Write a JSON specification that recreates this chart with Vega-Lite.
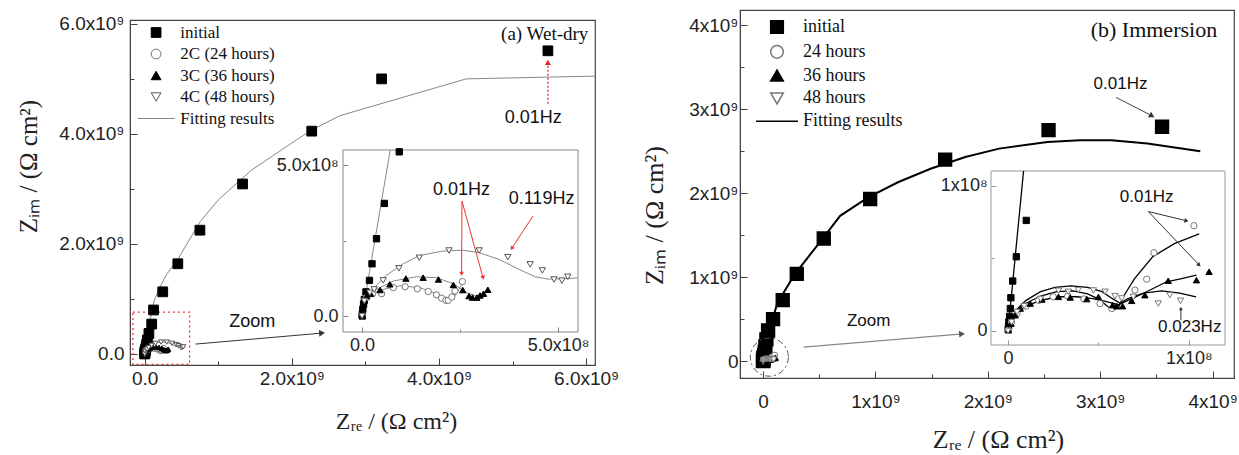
{
  "$schema": "https://vega.github.io/schema/vega-lite/v6.json",
  "padding": {"left": 15, "top": 7, "right": 5, "bottom": 5},
  "background": "white",
  "spacing": 20,
  "config": {
    "view": {"stroke": "#444", "strokeWidth": 1.2},
    "axis": {"grid": false, "labelFlush": false, "labelOverlap": false, "domainColor": "#444", "tickColor": "#444", "labelColor": "#222", "titleColor": "#222", "labelFont": "Liberation Sans", "titleFont": "Liberation Serif", "titleFontWeight": "normal"},
    "legend": {"padding": 0},
    "text": {"font": "Liberation Sans"}
  },
  "resolve": {
    "scale": {"shape": "independent", "fill": "independent", "stroke": "independent"},
    "legend": {"shape": "independent", "fill": "independent", "stroke": "independent"}
  },
  "datasets": {
    "a_pts": [
      {"s": "initial", "x": 5.48e9, "y": 5.51e9},
      {"s": "initial", "x": 3.22e9, "y": 5.0e9},
      {"s": "initial", "x": 2.27e9, "y": 4.05e9},
      {"s": "initial", "x": 1.33e9, "y": 3.09e9},
      {"s": "initial", "x": 7.5e8, "y": 2.25e9},
      {"s": "initial", "x": 4.5e8, "y": 1.64e9},
      {"s": "initial", "x": 2.45e8, "y": 1.13e9},
      {"s": "initial", "x": 1.2e8, "y": 8.0e8},
      {"s": "initial", "x": 9.5e7, "y": 5.44e8},
      {"s": "initial", "x": 5.7e7, "y": 3.73e8},
      {"s": "initial", "x": 3.7e7, "y": 2.56e8},
      {"s": "initial", "x": 2.55e7, "y": 1.73e8},
      {"s": "initial", "x": 1.9e7, "y": 1.18e8},
      {"s": "initial", "x": 1.0e7, "y": 8.0e7},
      {"s": "initial", "x": 6e6, "y": 5.5e7},
      {"s": "initial", "x": 4e6, "y": 3.9e7},
      {"s": "initial", "x": 2e6, "y": 2.2e7},
      {"s": "initial", "x": 1e6, "y": 8e6},
      {"s": "initial", "x": 5e5, "y": 0},
      {"s": "2C (24 hours)", "x": 1e6, "y": 5e6},
      {"s": "2C (24 hours)", "x": 1.2e7, "y": 6.1e7},
      {"s": "2C (24 hours)", "x": 2.7e7, "y": 7.4e7},
      {"s": "2C (24 hours)", "x": 5.0e7, "y": 7.4e7},
      {"s": "2C (24 hours)", "x": 8.0e7, "y": 9.4e7},
      {"s": "2C (24 hours)", "x": 1.10e8, "y": 9.7e7},
      {"s": "2C (24 hours)", "x": 1.41e8, "y": 9.0e7},
      {"s": "2C (24 hours)", "x": 1.69e8, "y": 8.1e7},
      {"s": "2C (24 hours)", "x": 1.90e8, "y": 7.0e7},
      {"s": "2C (24 hours)", "x": 2.03e8, "y": 5.9e7},
      {"s": "2C (24 hours)", "x": 2.14e8, "y": 5.2e7},
      {"s": "2C (24 hours)", "x": 2.20e8, "y": 5.2e7},
      {"s": "2C (24 hours)", "x": 2.29e8, "y": 6.3e7},
      {"s": "2C (24 hours)", "x": 2.37e8, "y": 8.3e7},
      {"s": "2C (24 hours)", "x": 2.56e8, "y": 1.14e8},
      {"s": "3C (36 hours)", "x": 0, "y": 5.5e6},
      {"s": "3C (36 hours)", "x": 5e5, "y": 1.66e7},
      {"s": "3C (36 hours)", "x": 6e6, "y": 5.0e7},
      {"s": "3C (36 hours)", "x": 1.2e7, "y": 6.6e7},
      {"s": "3C (36 hours)", "x": 2.2e7, "y": 7.4e7},
      {"s": "3C (36 hours)", "x": 4.6e7, "y": 8.6e7},
      {"s": "3C (36 hours)", "x": 7.1e7, "y": 1.05e8},
      {"s": "3C (36 hours)", "x": 1.12e8, "y": 1.24e8},
      {"s": "3C (36 hours)", "x": 1.56e8, "y": 1.27e8},
      {"s": "3C (36 hours)", "x": 1.95e8, "y": 1.21e8},
      {"s": "3C (36 hours)", "x": 2.33e8, "y": 1.03e8},
      {"s": "3C (36 hours)", "x": 2.57e8, "y": 8.6e7},
      {"s": "3C (36 hours)", "x": 2.73e8, "y": 6.6e7},
      {"s": "3C (36 hours)", "x": 2.82e8, "y": 6.1e7},
      {"s": "3C (36 hours)", "x": 2.93e8, "y": 6.1e7},
      {"s": "3C (36 hours)", "x": 3.01e8, "y": 6.8e7},
      {"s": "3C (36 hours)", "x": 3.10e8, "y": 7.4e7},
      {"s": "3C (36 hours)", "x": 3.21e8, "y": 8.7e7},
      {"s": "4C (48 hours)", "x": 0, "y": 0},
      {"s": "4C (48 hours)", "x": 6e6, "y": 5.0e7},
      {"s": "4C (48 hours)", "x": 2.0e7, "y": 7.7e7},
      {"s": "4C (48 hours)", "x": 3.1e7, "y": 8.8e7},
      {"s": "4C (48 hours)", "x": 5.4e7, "y": 1.18e8},
      {"s": "4C (48 hours)", "x": 9.4e7, "y": 1.58e8},
      {"s": "4C (48 hours)", "x": 1.46e8, "y": 1.93e8},
      {"s": "4C (48 hours)", "x": 2.22e8, "y": 2.17e8},
      {"s": "4C (48 hours)", "x": 2.99e8, "y": 2.17e8},
      {"s": "4C (48 hours)", "x": 3.72e8, "y": 1.95e8},
      {"s": "4C (48 hours)", "x": 4.29e8, "y": 1.71e8},
      {"s": "4C (48 hours)", "x": 4.60e8, "y": 1.51e8},
      {"s": "4C (48 hours)", "x": 4.90e8, "y": 1.21e8},
      {"s": "4C (48 hours)", "x": 5.10e8, "y": 1.17e8},
      {"s": "4C (48 hours)", "x": 5.25e8, "y": 1.30e8}
    ],
    "a_fit": [
      {"s": "initial", "p": "m", "x": 0, "y": 0},
      {"s": "initial", "p": "m", "x": 7e7, "y": 6.0e8},
      {"s": "initial", "p": "m", "x": 1.27e8, "y": 9.6e8},
      {"s": "initial", "p": "m", "x": 2.0e8, "y": 1.2e9},
      {"s": "initial", "p": "m", "x": 3.0e8, "y": 1.45e9},
      {"s": "initial", "p": "m", "x": 4.5e8, "y": 1.72e9},
      {"s": "initial", "p": "m", "x": 7.5e8, "y": 2.4e9},
      {"s": "initial", "p": "m", "x": 1.0e9, "y": 2.8e9},
      {"s": "initial", "p": "m", "x": 1.45e9, "y": 3.34e9},
      {"s": "initial", "p": "m", "x": 2.24e9, "y": 4.05e9},
      {"s": "initial", "p": "m", "x": 2.65e9, "y": 4.33e9},
      {"s": "initial", "p": "m", "x": 4.37e9, "y": 5.0e9},
      {"s": "initial", "p": "m", "x": 6.12e9, "y": 5.05e9},
      {"s": "initial", "p": "z", "x": 0, "y": 0},
      {"s": "initial", "p": "z", "x": 7.2e7, "y": 5.5e8},
      {"s": "4C (48 hours)", "p": "z", "x": 0, "y": 0},
      {"s": "4C (48 hours)", "p": "z", "x": 1.2e7, "y": 5.0e7},
      {"s": "4C (48 hours)", "p": "z", "x": 3.2e7, "y": 9.5e7},
      {"s": "4C (48 hours)", "p": "z", "x": 6.1e7, "y": 1.34e8},
      {"s": "4C (48 hours)", "p": "z", "x": 1.04e8, "y": 1.72e8},
      {"s": "4C (48 hours)", "p": "z", "x": 1.46e8, "y": 2.0e8},
      {"s": "4C (48 hours)", "p": "z", "x": 2.05e8, "y": 2.15e8},
      {"s": "4C (48 hours)", "p": "z", "x": 2.56e8, "y": 2.18e8},
      {"s": "4C (48 hours)", "p": "z", "x": 2.98e8, "y": 2.10e8},
      {"s": "4C (48 hours)", "p": "z", "x": 3.49e8, "y": 1.88e8},
      {"s": "4C (48 hours)", "p": "z", "x": 4.0e8, "y": 1.55e8},
      {"s": "4C (48 hours)", "p": "z", "x": 4.42e8, "y": 1.30e8},
      {"s": "4C (48 hours)", "p": "z", "x": 4.76e8, "y": 1.22e8},
      {"s": "4C (48 hours)", "p": "z", "x": 5.18e8, "y": 1.24e8},
      {"s": "4C (48 hours)", "p": "z", "x": 5.50e8, "y": 1.26e8},
      {"s": "3C (36 hours)", "p": "z", "x": 0, "y": 0},
      {"s": "3C (36 hours)", "p": "z", "x": 1.2e7, "y": 6.1e7},
      {"s": "3C (36 hours)", "p": "z", "x": 3.8e7, "y": 8.9e7},
      {"s": "3C (36 hours)", "p": "z", "x": 8.0e7, "y": 1.16e8},
      {"s": "3C (36 hours)", "p": "z", "x": 1.39e8, "y": 1.30e8},
      {"s": "3C (36 hours)", "p": "z", "x": 1.90e8, "y": 1.27e8},
      {"s": "3C (36 hours)", "p": "z", "x": 2.33e8, "y": 1.07e8},
      {"s": "3C (36 hours)", "p": "z", "x": 2.67e8, "y": 7.7e7},
      {"s": "3C (36 hours)", "p": "z", "x": 2.93e8, "y": 6.6e7},
      {"s": "3C (36 hours)", "p": "z", "x": 3.19e8, "y": 8.3e7},
      {"s": "2C (24 hours)", "p": "z", "x": 0, "y": 0},
      {"s": "2C (24 hours)", "p": "z", "x": 1.6e7, "y": 6.6e7},
      {"s": "2C (24 hours)", "p": "z", "x": 4.6e7, "y": 8.6e7},
      {"s": "2C (24 hours)", "p": "z", "x": 9.7e7, "y": 1.0e8},
      {"s": "2C (24 hours)", "p": "z", "x": 1.48e8, "y": 9.4e7},
      {"s": "2C (24 hours)", "p": "z", "x": 1.87e8, "y": 7.5e7},
      {"s": "2C (24 hours)", "p": "z", "x": 2.12e8, "y": 5.2e7},
      {"s": "2C (24 hours)", "p": "z", "x": 2.34e8, "y": 6.1e7},
      {"s": "2C (24 hours)", "p": "z", "x": 2.55e8, "y": 1.05e8}
    ],
    "b_pts": [
      {"s": "initial", "x": 3.55e9, "y": 2.79e9},
      {"s": "initial", "x": 2.54e9, "y": 2.75e9},
      {"s": "initial", "x": 1.62e9, "y": 2.40e9},
      {"s": "initial", "x": 9.53e8, "y": 1.93e9},
      {"s": "initial", "x": 5.4e8, "y": 1.46e9},
      {"s": "initial", "x": 3.0e8, "y": 1.04e9},
      {"s": "initial", "x": 1.75e8, "y": 7.26e8},
      {"s": "initial", "x": 8.9e7, "y": 5.0e8},
      {"s": "initial", "x": 4.5e7, "y": 3.65e8},
      {"s": "initial", "x": 3.0e7, "y": 2.6e8},
      {"s": "initial", "x": 2.1e7, "y": 1.75e8},
      {"s": "initial", "x": 1.5e7, "y": 1.14e8},
      {"s": "initial", "x": 1.01e7, "y": 7.6e7},
      {"s": "initial", "x": 4.6e6, "y": 5.1e7},
      {"s": "initial", "x": 2.6e6, "y": 3.43e7},
      {"s": "initial", "x": 1.6e6, "y": 2.28e7},
      {"s": "initial", "x": 1.3e6, "y": 1.54e7},
      {"s": "initial", "x": 9e5, "y": 1.0e7},
      {"s": "initial", "x": 5e5, "y": 6.3e6},
      {"s": "initial", "x": 3e5, "y": 3.2e6},
      {"s": "initial", "x": 1e5, "y": 1e6},
      {"s": "24 hours", "x": 3e5, "y": 5e5},
      {"s": "24 hours", "x": 2e6, "y": 6e6},
      {"s": "24 hours", "x": 5e6, "y": 1.2e7},
      {"s": "24 hours", "x": 1.0e7, "y": 1.7e7},
      {"s": "24 hours", "x": 1.7e7, "y": 2.1e7},
      {"s": "24 hours", "x": 2.5e7, "y": 2.35e7},
      {"s": "24 hours", "x": 3.3e7, "y": 2.4e7},
      {"s": "24 hours", "x": 4.2e7, "y": 2.2e7},
      {"s": "24 hours", "x": 5.09e7, "y": 1.88e7},
      {"s": "24 hours", "x": 5.74e7, "y": 1.54e7},
      {"s": "24 hours", "x": 7.02e7, "y": 2.81e7},
      {"s": "24 hours", "x": 7.67e7, "y": 3.56e7},
      {"s": "24 hours", "x": 8.07e7, "y": 5.38e7},
      {"s": "24 hours", "x": 1.028e8, "y": 7.24e7},
      {"s": "36 hours", "x": 3e5, "y": 5e5},
      {"s": "36 hours", "x": 1.7e6, "y": 5e6},
      {"s": "36 hours", "x": 4.0e6, "y": 1.08e7},
      {"s": "36 hours", "x": 6.8e6, "y": 1.54e7},
      {"s": "36 hours", "x": 1.23e7, "y": 1.88e7},
      {"s": "36 hours", "x": 1.88e7, "y": 2.16e7},
      {"s": "36 hours", "x": 2.79e7, "y": 2.34e7},
      {"s": "36 hours", "x": 3.44e7, "y": 2.30e7},
      {"s": "36 hours", "x": 4.36e7, "y": 2.19e7},
      {"s": "36 hours", "x": 5.0e7, "y": 2.34e7},
      {"s": "36 hours", "x": 5.79e7, "y": 1.77e7},
      {"s": "36 hours", "x": 6.01e7, "y": 1.70e7},
      {"s": "36 hours", "x": 6.34e7, "y": 1.70e7},
      {"s": "36 hours", "x": 6.84e7, "y": 2.07e7},
      {"s": "36 hours", "x": 7.57e7, "y": 2.46e7},
      {"s": "36 hours", "x": 8.86e7, "y": 3.45e7},
      {"s": "36 hours", "x": 1.042e8, "y": 3.49e7},
      {"s": "36 hours", "x": 1.112e8, "y": 4.07e7},
      {"s": "48 hours", "x": 0, "y": 0},
      {"s": "48 hours", "x": 2e6, "y": 6e6},
      {"s": "48 hours", "x": 5e6, "y": 1.3e7},
      {"s": "48 hours", "x": 9e6, "y": 1.7e7},
      {"s": "48 hours", "x": 1.8e7, "y": 2.2e7},
      {"s": "48 hours", "x": 2.79e7, "y": 2.76e7},
      {"s": "48 hours", "x": 3.34e7, "y": 2.69e7},
      {"s": "48 hours", "x": 3.89e7, "y": 2.81e7},
      {"s": "48 hours", "x": 4.72e7, "y": 2.78e7},
      {"s": "48 hours", "x": 5.37e7, "y": 2.69e7},
      {"s": "48 hours", "x": 5.92e7, "y": 2.39e7},
      {"s": "48 hours", "x": 6.29e7, "y": 2.23e7},
      {"s": "48 hours", "x": 6.93e7, "y": 2.34e7},
      {"s": "48 hours", "x": 8.31e7, "y": 1.88e7},
      {"s": "48 hours", "x": 8.95e7, "y": 2.46e7},
      {"s": "48 hours", "x": 9.54e7, "y": 2.07e7}
    ],
    "b_fit": [
      {"s": "initial", "p": "m", "x": 0, "y": 0},
      {"s": "initial", "p": "m", "x": 6e7, "y": 4.0e8},
      {"s": "initial", "p": "m", "x": 1.3e8, "y": 7.0e8},
      {"s": "initial", "p": "m", "x": 2.85e8, "y": 1.04e9},
      {"s": "initial", "p": "m", "x": 5.25e8, "y": 1.45e9},
      {"s": "initial", "p": "m", "x": 6.86e8, "y": 1.73e9},
      {"s": "initial", "p": "m", "x": 9.35e8, "y": 1.95e9},
      {"s": "initial", "p": "m", "x": 1.2e9, "y": 2.13e9},
      {"s": "initial", "p": "m", "x": 1.49e9, "y": 2.29e9},
      {"s": "initial", "p": "m", "x": 1.8e9, "y": 2.43e9},
      {"s": "initial", "p": "m", "x": 2.1e9, "y": 2.53e9},
      {"s": "initial", "p": "m", "x": 2.53e9, "y": 2.61e9},
      {"s": "initial", "p": "m", "x": 2.82e9, "y": 2.63e9},
      {"s": "initial", "p": "m", "x": 3.1e9, "y": 2.63e9},
      {"s": "initial", "p": "m", "x": 3.42e9, "y": 2.59e9},
      {"s": "initial", "p": "m", "x": 3.89e9, "y": 2.50e9},
      {"s": "initial", "p": "z", "x": 0, "y": 0},
      {"s": "initial", "p": "z", "x": 8.6e6, "y": 1.10e8},
      {"s": "48 hours", "p": "z", "x": 0, "y": 0},
      {"s": "48 hours", "p": "z", "x": 2e6, "y": 8e6},
      {"s": "48 hours", "p": "z", "x": 5e6, "y": 1.5e7},
      {"s": "48 hours", "p": "z", "x": 1.0e7, "y": 2.1e7},
      {"s": "48 hours", "p": "z", "x": 1.8e7, "y": 2.7e7},
      {"s": "48 hours", "p": "z", "x": 2.6e7, "y": 3.0e7},
      {"s": "48 hours", "p": "z", "x": 3.5e7, "y": 3.1e7},
      {"s": "48 hours", "p": "z", "x": 4.4e7, "y": 3.0e7},
      {"s": "48 hours", "p": "z", "x": 5.2e7, "y": 2.7e7},
      {"s": "48 hours", "p": "z", "x": 5.8e7, "y": 2.2e7},
      {"s": "48 hours", "p": "z", "x": 6.2e7, "y": 1.9e7},
      {"s": "48 hours", "p": "z", "x": 6.6e7, "y": 2.2e7},
      {"s": "48 hours", "p": "z", "x": 7.5e7, "y": 2.6e7},
      {"s": "48 hours", "p": "z", "x": 8.5e7, "y": 2.75e7},
      {"s": "48 hours", "p": "z", "x": 9.5e7, "y": 2.6e7},
      {"s": "48 hours", "p": "z", "x": 1.04e8, "y": 2.34e7},
      {"s": "24 hours", "p": "z", "x": 0, "y": 0},
      {"s": "24 hours", "p": "z", "x": 2e6, "y": 7e6},
      {"s": "24 hours", "p": "z", "x": 5e6, "y": 1.4e7},
      {"s": "24 hours", "p": "z", "x": 1.0e7, "y": 1.9e7},
      {"s": "24 hours", "p": "z", "x": 1.8e7, "y": 2.4e7},
      {"s": "24 hours", "p": "z", "x": 2.7e7, "y": 2.7e7},
      {"s": "24 hours", "p": "z", "x": 3.6e7, "y": 2.75e7},
      {"s": "24 hours", "p": "z", "x": 4.4e7, "y": 2.55e7},
      {"s": "24 hours", "p": "z", "x": 5.0e7, "y": 2.2e7},
      {"s": "24 hours", "p": "z", "x": 5.5e7, "y": 1.7e7},
      {"s": "24 hours", "p": "z", "x": 5.8e7, "y": 1.45e7},
      {"s": "24 hours", "p": "z", "x": 6.1e7, "y": 1.6e7},
      {"s": "24 hours", "p": "z", "x": 6.4e7, "y": 2.4e7},
      {"s": "24 hours", "p": "z", "x": 7.0e7, "y": 3.6e7},
      {"s": "24 hours", "p": "z", "x": 8.0e7, "y": 5.1e7},
      {"s": "24 hours", "p": "z", "x": 9.2e7, "y": 6.0e7},
      {"s": "24 hours", "p": "z", "x": 1.057e8, "y": 6.67e7},
      {"s": "36 hours", "p": "z", "x": 0, "y": 0},
      {"s": "36 hours", "p": "z", "x": 2e6, "y": 6e6},
      {"s": "36 hours", "p": "z", "x": 5e6, "y": 1.2e7},
      {"s": "36 hours", "p": "z", "x": 1.0e7, "y": 1.7e7},
      {"s": "36 hours", "p": "z", "x": 1.8e7, "y": 2.1e7},
      {"s": "36 hours", "p": "z", "x": 2.8e7, "y": 2.35e7},
      {"s": "36 hours", "p": "z", "x": 3.8e7, "y": 2.35e7},
      {"s": "36 hours", "p": "z", "x": 4.8e7, "y": 2.2e7},
      {"s": "36 hours", "p": "z", "x": 5.5e7, "y": 2.0e7},
      {"s": "36 hours", "p": "z", "x": 6.1e7, "y": 1.8e7},
      {"s": "36 hours", "p": "z", "x": 7.0e7, "y": 2.3e7},
      {"s": "36 hours", "p": "z", "x": 8.0e7, "y": 2.9e7},
      {"s": "36 hours", "p": "z", "x": 8.77e7, "y": 3.38e7},
      {"s": "36 hours", "p": "z", "x": 9.6e7, "y": 3.6e7},
      {"s": "36 hours", "p": "z", "x": 1.042e8, "y": 3.84e7}
    ]
  },
  "hconcat": [
    {
      "spacing": 0,
      "vconcat": [
        {
          "width": 465,
          "height": 1,
          "view": {"stroke": null},
          "data": {"values": [{"k": 1}]},
          "mark": {"type": "point", "opacity": 0},
          "encoding": {}
        },
        {
          "width": 465,
          "height": 345,
          "resolve": {"scale": {"x": "independent", "y": "independent"}, "axis": {"x": "independent", "y": "independent"}},
          "layer": [
            {
              "encoding": {
                "x": {"field": "x", "type": "quantitative", "scale": {"domain": [-2e8, 6.12e9], "nice": false, "zero": false},
                  "axis": {"title": "Zᵣₑ / (Ω cm²)", "values": [0, 1e9, 2e9, 3e9, 4e9, 5e9, 6e9],
                    "labelExpr": "datum.value == 0 ? '0.0' : (datum.value % 2e9 == 0 ? format(datum.value/1e9, '.1f') + 'x10⁹' : '')",
                    "tickSize": {"condition": {"test": "datum.value % 2e9 != 0", "value": -4}, "value": -7},
                    "labelPadding": 11, "labelFontSize": 19, "titleFontSize": 24, "titleX": 266, "titleY": 56, "titleBaseline": "middle", "titleAlign": "center"}},
                "y": {"field": "y", "type": "quantitative", "scale": {"domain": [-2e8, 6.07e9], "nice": false, "zero": false},
                  "axis": {"title": "Zᵢₘ / (Ω cm²)", "values": [0, 1e9, 2e9, 3e9, 4e9, 5e9, 6e9],
                    "labelExpr": "datum.value == 0 ? '0.0' : (datum.value % 2e9 == 0 ? format(datum.value/1e9, '.1f') + 'x10⁹' : '')",
                    "tickSize": {"condition": {"test": "datum.value % 2e9 != 0", "value": -4}, "value": -7},
                    "labelPadding": 13, "labelFontSize": 19, "titleFontSize": 25, "titleX": -102, "titleY": 146, "titleBaseline": "middle", "titleAlign": "center", "titleAngle": -90}}
              },
              "layer": [
                {"data": {"values": [{"x": -1.6e8, "x2": 6.1e8, "y": -1.9e8, "y2": 7.6e8}]},
                  "mark": {"type": "rect", "fill": "transparent", "stroke": "#e33", "strokeDash": [2, 3], "strokeWidth": 1.3},
                  "encoding": {"x2": {"field": "x2"}, "y2": {"field": "y2"}}},
                {"data": {"name": "a_fit"}, "mark": {"type": "line", "stroke": "#888", "strokeWidth": 1},
                  "encoding": {"detail": [{"field": "s"}, {"field": "p"}]}},
                {"data": {"name": "a_pts"}, "transform": [{"filter": "datum.s == 'initial'"}],
                  "mark": {"type": "point", "filled": true, "strokeWidth": 1, "opacity": 1, "size": 95},
                  "encoding": {
                    "shape": {"field": "s", "type": "nominal", "scale": {"domain": ["initial", "2C (24 hours)", "3C (36 hours)", "4C (48 hours)", "Fitting results"], "range": ["square", "circle", "triangle-up", "triangle-down", "M-3.8,0L3.8,0"]},
                      "legend": {"title": null, "orient": "none", "legendX": 17.6, "legendY": 14, "padding": 0, "labelFont": "Liberation Serif", "labelFontSize": 17, "labelColor": "#111", "rowPadding": 3.5, "labelOffset": 15.7, "symbolSize": 95, "symbolStrokeWidth": 1}},
                    "fill": {"field": "s", "type": "nominal", "scale": {"domain": ["initial", "2C (24 hours)", "3C (36 hours)", "4C (48 hours)", "Fitting results"], "range": ["black", "white", "black", "white", "transparent"]},
                      "legend": {"title": null, "orient": "none", "legendX": 17.6, "legendY": 14, "padding": 0, "labelFont": "Liberation Serif", "labelFontSize": 17, "labelColor": "#111", "rowPadding": 3.5, "labelOffset": 15.7, "symbolSize": 95, "symbolStrokeWidth": 1}},
                    "stroke": {"field": "s", "type": "nominal", "scale": {"domain": ["initial", "2C (24 hours)", "3C (36 hours)", "4C (48 hours)", "Fitting results"], "range": ["black", "#777", "black", "#555", "#888"]},
                      "legend": {"title": null, "orient": "none", "legendX": 17.6, "legendY": 14, "padding": 0, "labelFont": "Liberation Serif", "labelFontSize": 17, "labelColor": "#111", "rowPadding": 3.5, "labelOffset": 15.7, "symbolSize": 95, "symbolStrokeWidth": 1}}
                  }},
                {"data": {"name": "a_pts"}, "transform": [{"filter": "datum.s != 'initial'"}],
                  "mark": {"type": "point", "filled": true, "strokeWidth": 1, "opacity": 1, "size": 25},
                  "encoding": {
                    "shape": {"field": "s", "type": "nominal", "scale": {"domain": ["initial", "2C (24 hours)", "3C (36 hours)", "4C (48 hours)", "Fitting results"], "range": ["square", "circle", "triangle-up", "triangle-down", "M-3.8,0L3.8,0"]}},
                    "fill": {"field": "s", "type": "nominal", "scale": {"domain": ["initial", "2C (24 hours)", "3C (36 hours)", "4C (48 hours)", "Fitting results"], "range": ["black", "white", "black", "white", "transparent"]}},
                    "stroke": {"field": "s", "type": "nominal", "scale": {"domain": ["initial", "2C (24 hours)", "3C (36 hours)", "4C (48 hours)", "Fitting results"], "range": ["black", "#777", "black", "#555", "#888"]}}
                  }},
                {"data": {"values": [{"x": 6.9e8, "y": 1.8e8, "x2": 2.41e9, "y2": 3.8e8}]},
                  "mark": {"type": "rule", "stroke": "#333", "strokeWidth": 1},
                  "encoding": {"x2": {"field": "x2"}, "y2": {"field": "y2"}}},
                {"data": {"values": [{"x": 2.41e9, "y": 3.8e8}]},
                  "mark": {"type": "point", "shape": "triangle-right", "angle": -5, "size": 45, "filled": true, "fill": "#333", "stroke": null, "opacity": 1},
                  "encoding": {}},
                {"data": {"values": [{"x": 5.48e9, "y": 4.55e9, "x2": 5.48e9, "y2": 5.28e9}]},
                  "mark": {"type": "rule", "stroke": "#e22", "strokeWidth": 1.3, "strokeDash": [2, 2]},
                  "encoding": {"x2": {"field": "x2"}, "y2": {"field": "y2"}}},
                {"data": {"values": [{"x": 5.48e9, "y": 5.3e9}]},
                  "mark": {"type": "point", "shape": "triangle-up", "size": 35, "filled": true, "fill": "#e22", "stroke": null, "opacity": 1},
                  "encoding": {}},
                {"data": {"values": [{"x": 1.46e9, "y": 5.8e8, "t": "Zoom"}, {"x": 5.28e9, "y": 4.29e9, "t": "0.01Hz"}]},
                  "mark": {"type": "text", "font": "Liberation Sans", "fontSize": 18, "align": "center", "baseline": "middle", "color": "#111"},
                  "encoding": {"text": {"field": "t"}}},
                {"data": {"values": [{"x": 6.03e9, "y": 5.82e9, "t": "(a) Wet-dry"}]},
                  "mark": {"type": "text", "font": "Liberation Serif", "fontSize": 19, "align": "right", "baseline": "middle", "color": "#111"},
                  "encoding": {"text": {"field": "t"}}}
              ]
            },
            {
              "encoding": {
                "x": {"field": "x", "type": "quantitative", "scale": {"domain": [-4.85e7, 5.51e8], "range": [213, 448], "nice": false, "zero": false},
                  "axis": {"orient": "bottom", "offset": -33, "title": null, "values": [0, 2.5e8, 5e8],
                    "labelExpr": "datum.value == 0 ? '0.0' : (datum.value == 5e8 ? '5.0x10⁸' : '')",
                    "tickSize": {"condition": {"test": "datum.value == 2.5e8", "value": -3}, "value": -5},
                    "labelPadding": 9, "labelFontSize": 18, "domain": false, "tickColor": "#888", "zindex": 1}},
                "y": {"field": "y", "type": "quantitative", "scale": {"domain": [-5.3e7, 5.5e8], "range": [312, 130], "nice": false, "zero": false},
                  "axis": {"orient": "left", "offset": -213, "title": null, "values": [0, 2.5e8, 5e8],
                    "labelExpr": "datum.value == 0 ? '0.0' : (datum.value == 5e8 ? '5.0x10⁸' : '')",
                    "tickSize": {"condition": {"test": "datum.value == 2.5e8", "value": -3}, "value": -5},
                    "labelPadding": 10, "labelFontSize": 18, "domain": false, "tickColor": "#888", "zindex": 1}}
              },
              "layer": [
                {"data": {"values": [{"x": -4.85e7, "x2": 5.51e8, "y": -5.3e7, "y2": 5.5e8}]},
                  "mark": {"type": "rect", "fill": "white", "stroke": "#888", "strokeWidth": 1},
                  "encoding": {"x2": {"field": "x2"}, "y2": {"field": "y2"}}},
                {"data": {"name": "a_fit"}, "transform": [{"filter": "datum.p == 'z'"}],
                  "mark": {"type": "line", "stroke": "#888", "strokeWidth": 1},
                  "encoding": {"detail": {"field": "s"}}},
                {"data": {"name": "a_pts"}, "transform": [{"filter": "datum.x <= 5.5e8 && datum.y <= 5.5e8"}],
                  "mark": {"type": "point", "filled": true, "strokeWidth": 1, "opacity": 1, "size": 40},
                  "encoding": {
                    "shape": {"field": "s", "type": "nominal", "scale": {"domain": ["initial", "2C (24 hours)", "3C (36 hours)", "4C (48 hours)", "Fitting results"], "range": ["square", "circle", "triangle-up", "triangle-down", "M-3.8,0L3.8,0"]}},
                    "fill": {"field": "s", "type": "nominal", "scale": {"domain": ["initial", "2C (24 hours)", "3C (36 hours)", "4C (48 hours)", "Fitting results"], "range": ["black", "white", "black", "white", "transparent"]}},
                    "stroke": {"field": "s", "type": "nominal", "scale": {"domain": ["initial", "2C (24 hours)", "3C (36 hours)", "4C (48 hours)", "Fitting results"], "range": ["black", "#777", "black", "#555", "#888"]}}
                  }},
                {"data": {"values": [{"x": 2.55e8, "y": 3.81e8, "x2": 2.54e8, "y2": 1.42e8}, {"x": 2.55e8, "y": 3.81e8, "x2": 3.08e8, "y2": 1.30e8}, {"x": 4.36e8, "y": 3.31e8, "x2": 3.84e8, "y2": 2.28e8}]},
                  "mark": {"type": "rule", "stroke": "#e33", "strokeWidth": 1},
                  "encoding": {"x2": {"field": "x2"}, "y2": {"field": "y2"}}},
                {"data": {"values": [{"x": 2.54e8, "y": 1.40e8}]},
                  "mark": {"type": "point", "shape": "triangle-down", "size": 22, "filled": true, "fill": "#e33", "stroke": null, "opacity": 1}, "encoding": {}},
                {"data": {"values": [{"x": 3.09e8, "y": 1.27e8}]},
                  "mark": {"type": "point", "shape": "triangle-down", "angle": -15, "size": 22, "filled": true, "fill": "#e33", "stroke": null, "opacity": 1}, "encoding": {}},
                {"data": {"values": [{"x": 3.82e8, "y": 2.24e8}]},
                  "mark": {"type": "point", "shape": "triangle-down", "angle": 33, "size": 22, "filled": true, "fill": "#e33", "stroke": null, "opacity": 1}, "encoding": {}},
                {"data": {"values": [{"x": 2.54e8, "y": 4.16e8, "t": "0.01Hz"}, {"x": 4.58e8, "y": 3.86e8, "t": "0.119Hz"}]},
                  "mark": {"type": "text", "font": "Liberation Sans", "fontSize": 18, "align": "center", "baseline": "middle", "color": "#111"},
                  "encoding": {"text": {"field": "t"}}}
              ]
            }
          ]
        }
      ]
    },
    {
      "width": 494,
      "height": 368,
      "resolve": {"scale": {"x": "independent", "y": "independent"}, "axis": {"x": "independent", "y": "independent"}},
      "layer": [
        {
          "encoding": {
            "x": {"field": "x", "type": "quantitative", "scale": {"domain": [-2.05e8, 4.19e9], "nice": false, "zero": false},
              "axis": {"title": "Zᵣₑ / (Ω cm²)", "values": [0, 5e8, 1e9, 1.5e9, 2e9, 2.5e9, 3e9, 3.5e9, 4e9],
                "labelExpr": "datum.value == 0 ? '0' : (datum.value % 1e9 == 0 ? format(datum.value/1e9, 'd') + 'x10⁹' : '')",
                "tickSize": {"condition": {"test": "datum.value % 1e9 != 0", "value": -4}, "value": -7},
                "labelPadding": 21, "labelFontSize": 19, "titleFontSize": 26, "titleX": 258, "titleY": 61, "titleBaseline": "middle", "titleAlign": "center"}},
            "y": {"field": "y", "type": "quantitative", "scale": {"domain": [-2e8, 4.18e9], "nice": false, "zero": false},
              "axis": {"title": "Zᵢₘ / (Ω cm²)", "values": [0, 5e8, 1e9, 1.5e9, 2e9, 2.5e9, 3e9, 3.5e9, 4e9],
                "labelExpr": "datum.value == 0 ? '0' : (datum.value % 1e9 == 0 ? format(datum.value/1e9, 'd') + 'x10⁹' : '')",
                "tickSize": {"condition": {"test": "datum.value % 1e9 != 0", "value": -4}, "value": -7},
                "labelPadding": 9, "labelFontSize": 19, "titleFontSize": 26, "titleX": -86, "titleY": 205, "titleBaseline": "middle", "titleAlign": "center", "titleAngle": -90}}
          },
          "layer": [
            {"data": {"name": "b_fit"}, "mark": {"type": "line", "stroke": "black", "strokeWidth": 2},
              "encoding": {"detail": [{"field": "s"}, {"field": "p"}]}},
            {"data": {"name": "b_pts"}, "transform": [{"filter": "datum.s == 'initial'"}],
              "mark": {"type": "point", "filled": true, "strokeWidth": 1.3, "opacity": 1, "size": 170},
              "encoding": {
                "shape": {"field": "s", "type": "nominal", "scale": {"domain": ["initial", "24 hours", "36 hours", "48 hours", "Fitting results"], "range": ["square", "circle", "triangle-up", "triangle-down", "M-3.32,0L3.32,0"]},
                  "legend": {"title": null, "orient": "none", "legendX": 28, "legendY": 8, "padding": 0, "labelFont": "Liberation Serif", "labelFontSize": 18, "labelColor": "#111", "rowPadding": 4.8, "labelOffset": 17, "symbolSize": 160, "symbolStrokeWidth": 1.5}},
                "fill": {"field": "s", "type": "nominal", "scale": {"domain": ["initial", "24 hours", "36 hours", "48 hours", "Fitting results"], "range": ["black", "white", "black", "white", "transparent"]},
                  "legend": {"title": null, "orient": "none", "legendX": 28, "legendY": 8, "padding": 0, "labelFont": "Liberation Serif", "labelFontSize": 18, "labelColor": "#111", "rowPadding": 4.8, "labelOffset": 17, "symbolSize": 160, "symbolStrokeWidth": 1.5}},
                "stroke": {"field": "s", "type": "nominal", "scale": {"domain": ["initial", "24 hours", "36 hours", "48 hours", "Fitting results"], "range": ["black", "#777", "black", "#777", "black"]},
                  "legend": {"title": null, "orient": "none", "legendX": 28, "legendY": 8, "padding": 0, "labelFont": "Liberation Serif", "labelFontSize": 18, "labelColor": "#111", "rowPadding": 4.8, "labelOffset": 17, "symbolSize": 160, "symbolStrokeWidth": 1.5}}
              }},
            {"data": {"name": "b_pts"}, "transform": [{"filter": "datum.s != 'initial'"}],
              "mark": {"type": "point", "filled": true, "strokeWidth": 1, "opacity": 1, "size": 35},
              "encoding": {
                "shape": {"field": "s", "type": "nominal", "scale": {"domain": ["initial", "24 hours", "36 hours", "48 hours", "Fitting results"], "range": ["square", "circle", "triangle-up", "triangle-down", "M-3.32,0L3.32,0"]}},
                "fill": {"field": "s", "type": "nominal", "scale": {"domain": ["initial", "24 hours", "36 hours", "48 hours", "Fitting results"], "range": ["black", "white", "black", "white", "transparent"]}},
                "stroke": {"field": "s", "type": "nominal", "scale": {"domain": ["initial", "24 hours", "36 hours", "48 hours", "Fitting results"], "range": ["black", "#777", "black", "#777", "black"]}}
              }},
            {"data": {"values": [{"x": 5.6e7, "y": 4.8e7}]},
              "mark": {"type": "point", "shape": "circle", "size": 1450, "filled": false, "stroke": "#555", "strokeWidth": 1, "strokeDash": [6, 3, 2, 3], "opacity": 1},
              "encoding": {}},
            {"data": {"values": [{"x": 3.6e8, "y": 1.67e8, "x2": 1.75e9, "y2": 3.23e8}]},
              "mark": {"type": "rule", "stroke": "#888", "strokeWidth": 1.2},
              "encoding": {"x2": {"field": "x2"}, "y2": {"field": "y2"}}},
            {"data": {"values": [{"x": 1.77e9, "y": 3.25e8}]},
              "mark": {"type": "point", "shape": "triangle-right", "angle": -5, "size": 45, "filled": true, "fill": "#555", "stroke": null, "opacity": 1}, "encoding": {}},
            {"data": {"values": [{"x": 3.14e9, "y": 3.14e9, "x2": 3.44e9, "y2": 2.935e9}]},
              "mark": {"type": "rule", "stroke": "#444", "strokeWidth": 1},
              "encoding": {"x2": {"field": "x2"}, "y2": {"field": "y2"}}},
            {"data": {"values": [{"x": 3.46e9, "y": 2.92e9}]},
              "mark": {"type": "point", "shape": "triangle-right", "angle": 28, "size": 40, "filled": true, "fill": "#333", "stroke": null, "opacity": 1}, "encoding": {}},
            {"data": {"values": [{"x": 9.4e8, "y": 4.8e8, "t": "Zoom"}, {"x": 3.18e9, "y": 3.30e9, "t": "0.01Hz"}]},
              "mark": {"type": "text", "font": "Liberation Sans", "fontSize": 17, "align": "center", "baseline": "middle", "color": "#111"},
              "encoding": {"text": {"field": "t"}}},
            {"data": {"values": [{"x": 4.04e9, "y": 3.94e9, "t": "(b) Immersion"}]},
              "mark": {"type": "text", "font": "Liberation Serif", "fontSize": 22, "align": "right", "baseline": "middle", "color": "#111"},
              "encoding": {"text": {"field": "t"}}}
          ]
        },
        {
          "encoding": {
            "x": {"field": "x", "type": "quantitative", "scale": {"domain": [-9.4e6, 1.2e8], "range": [251, 485], "nice": false, "zero": false},
              "axis": {"orient": "bottom", "offset": -33, "title": null, "values": [0, 5e7, 1e8],
                "labelExpr": "datum.value == 0 ? '0' : (datum.value == 1e8 ? '1x10⁸' : '')",
                "tickSize": {"condition": {"test": "datum.value == 5e7", "value": -3}, "value": -5},
                "labelPadding": 9, "labelFontSize": 18, "domain": false, "tickColor": "#999", "zindex": 1}},
            "y": {"field": "y", "type": "quantitative", "scale": {"domain": [-9.7e6, 1.10e8], "range": [335, 161], "nice": false, "zero": false},
              "axis": {"orient": "left", "offset": -251, "title": null, "values": [0, 5e7, 1e8],
                "labelExpr": "datum.value == 0 ? '0' : (datum.value == 1e8 ? '1x10⁸' : '')",
                "tickSize": {"condition": {"test": "datum.value == 5e7", "value": -3}, "value": -5},
                "labelPadding": 9, "labelFontSize": 18, "domain": false, "tickColor": "#999", "zindex": 1}}
          },
          "layer": [
            {"data": {"values": [{"x": -9.4e6, "x2": 1.2e8, "y": -9.7e6, "y2": 1.10e8}]},
              "mark": {"type": "rect", "fill": "white", "stroke": "#999", "strokeWidth": 1},
              "encoding": {"x2": {"field": "x2"}, "y2": {"field": "y2"}}},
            {"data": {"name": "b_fit"}, "transform": [{"filter": "datum.p == 'z'"}],
              "mark": {"type": "line", "stroke": "black", "strokeWidth": 1.3},
              "encoding": {"detail": {"field": "s"}}},
            {"data": {"name": "b_pts"}, "transform": [{"filter": "datum.x <= 1.2e8 && datum.y <= 1.08e8"}],
              "mark": {"type": "point", "filled": true, "strokeWidth": 1, "opacity": 1, "size": 40},
              "encoding": {
                "shape": {"field": "s", "type": "nominal", "scale": {"domain": ["initial", "24 hours", "36 hours", "48 hours", "Fitting results"], "range": ["square", "circle", "triangle-up", "triangle-down", "M-3.32,0L3.32,0"]}},
                "fill": {"field": "s", "type": "nominal", "scale": {"domain": ["initial", "24 hours", "36 hours", "48 hours", "Fitting results"], "range": ["black", "white", "black", "white", "transparent"]}},
                "stroke": {"field": "s", "type": "nominal", "scale": {"domain": ["initial", "24 hours", "36 hours", "48 hours", "Fitting results"], "range": ["black", "#777", "black", "#777", "black"]}}
              }},
            {"data": {"values": [{"x": 7.76e7, "y": 8.21e7, "x2": 9.8e7, "y2": 7.6e7}, {"x": 7.76e7, "y": 8.21e7, "x2": 1.052e8, "y2": 4.6e7}, {"x": 9.56e7, "y": 7.4e6, "x2": 9.56e7, "y2": 1.5e7}]},
              "mark": {"type": "rule", "stroke": "#333", "strokeWidth": 1},
              "encoding": {"x2": {"field": "x2"}, "y2": {"field": "y2"}}},
            {"data": {"values": [{"x": 9.87e7, "y": 7.57e7}]},
              "mark": {"type": "point", "shape": "triangle-right", "angle": 14, "size": 22, "filled": true, "fill": "#333", "stroke": null, "opacity": 1}, "encoding": {}},
            {"data": {"values": [{"x": 1.057e8, "y": 4.53e7}]},
              "mark": {"type": "point", "shape": "triangle-right", "angle": 46, "size": 22, "filled": true, "fill": "#333", "stroke": null, "opacity": 1}, "encoding": {}},
            {"data": {"values": [{"x": 9.56e7, "y": 1.54e7}]},
              "mark": {"type": "point", "shape": "triangle-up", "size": 16, "filled": true, "fill": "#333", "stroke": null, "opacity": 1}, "encoding": {}},
            {"data": {"values": [{"x": 7.67e7, "y": 9.24e7, "t": "0.01Hz"}, {"x": 1.005e8, "y": 2.8e6, "t": "0.023Hz"}]},
              "mark": {"type": "text", "font": "Liberation Sans", "fontSize": 17, "align": "center", "baseline": "middle", "color": "#111"},
              "encoding": {"text": {"field": "t"}}}
          ]
        }
      ]
    }
  ]
}
